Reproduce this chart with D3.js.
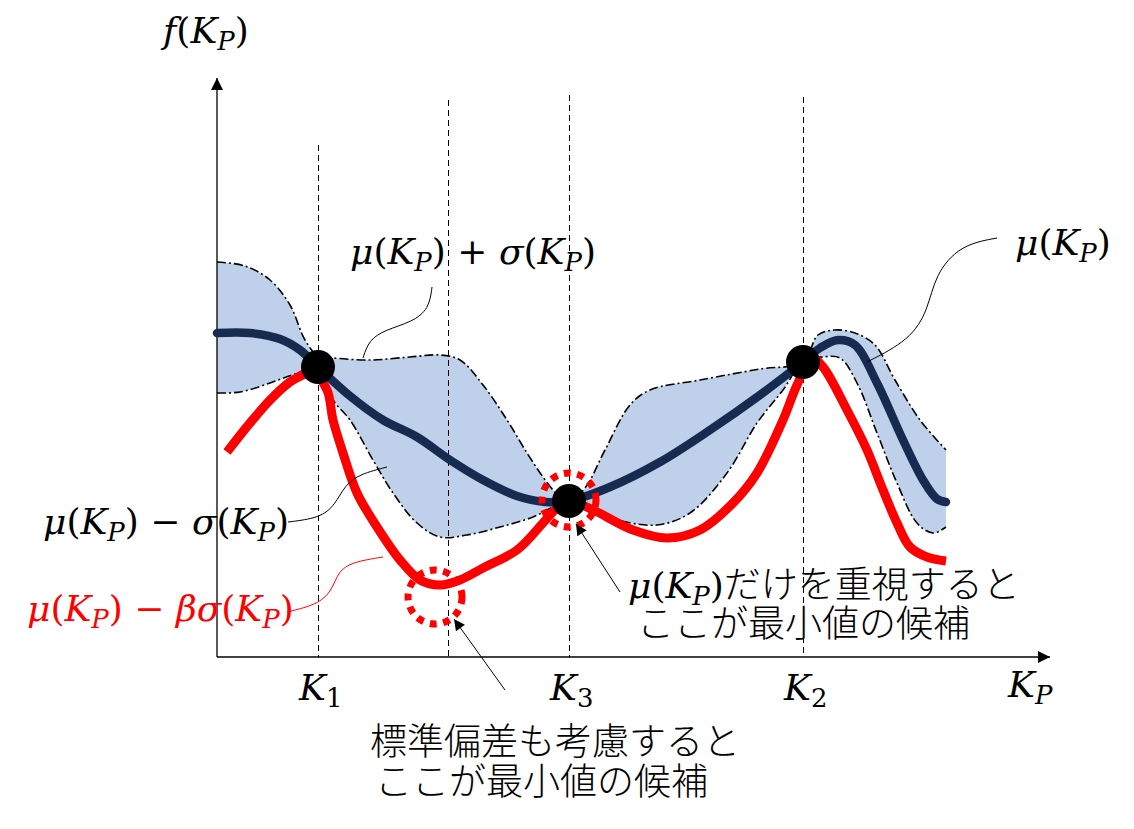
<!DOCTYPE html>
<html lang="ja">
<head>
<meta charset="utf-8">
<title>mu - beta sigma sketch</title>
<script src="https://cdnjs.cloudflare.com/ajax/libs/d3/7.8.5/d3.min.js"></script>
<style>
  body { margin: 0; background: #fff; }
  svg { display: block; }
  text { white-space: pre; }
  .math { font-family: "DejaVu Serif", serif; }
  .jp { font-family: "Noto Sans CJK JP", sans-serif; font-weight: 300; }
</style>
</head>
<body>
<script>
// K_P along x (0 .. 8.3), f(K_P) up (0 .. 5.72)
const meanCurve = [
  [0, 3.24], [0.33, 3.24], [0.63, 3.18], [0.83, 3.07], [1.01, 2.90], [1.33, 2.61],
  [1.66, 2.37], [2.00, 2.20], [2.33, 1.97], [2.66, 1.77], [3.00, 1.61], [3.28, 1.55],
  [3.52, 1.56], [3.93, 1.70], [4.43, 1.95], [4.93, 2.27], [5.43, 2.62], [5.86, 2.95],
  [6.03, 3.09], [6.21, 3.17], [6.38, 3.12], [6.60, 2.74], [6.86, 2.17], [7.06, 1.77],
  [7.20, 1.58], [7.29, 1.55]
];
const upperBand = [
  [0, 3.95], [0.28, 3.91], [0.53, 3.77], [0.73, 3.52], [0.88, 3.17], [1.01, 3.01],
  [1.16, 2.99], [1.53, 2.97], [1.93, 3.00], [2.23, 3.02], [2.43, 2.97], [2.66, 2.72],
  [2.90, 2.37], [3.10, 2.04], [3.26, 1.80], [3.39, 1.64], [3.52, 1.56], [3.68, 1.69],
  [3.88, 2.07], [4.13, 2.52], [4.33, 2.67], [4.83, 2.77], [5.43, 2.88], [5.86, 2.95],
  [6.01, 3.22], [6.18, 3.27], [6.38, 3.24], [6.58, 3.12], [6.78, 2.77], [7.03, 2.37],
  [7.29, 2.07]
];
const lowerBand = [
  [0, 2.64], [0.23, 2.65], [0.53, 2.74], [0.78, 2.83], [1.01, 2.89], [1.16, 2.57],
  [1.33, 2.37], [1.56, 1.97], [1.76, 1.64], [2.00, 1.34], [2.23, 1.20], [2.50, 1.22],
  [2.83, 1.30], [3.16, 1.40], [3.36, 1.50], [3.52, 1.56], [3.76, 1.45], [4.00, 1.37],
  [4.40, 1.32], [4.73, 1.44], [5.10, 1.84], [5.40, 2.34], [5.66, 2.67], [5.86, 2.95],
  [6.06, 3.00], [6.23, 2.99], [6.40, 2.74], [6.60, 2.24], [6.80, 1.74], [7.00, 1.34],
  [7.16, 1.24], [7.29, 1.30]
];
const lcbCurve = [
  [0.10, 2.05], [0.33, 2.34], [0.56, 2.60], [0.76, 2.77], [0.96, 2.84], [1.10, 2.67],
  [1.16, 2.37], [1.26, 2.04], [1.40, 1.64], [1.60, 1.30], [1.83, 0.97], [2.03, 0.77],
  [2.23, 0.72], [2.43, 0.77], [2.66, 0.89], [3.00, 1.07], [3.26, 1.34], [3.39, 1.48],
  [3.52, 1.56], [3.76, 1.47], [4.16, 1.27], [4.50, 1.19], [4.83, 1.27], [5.16, 1.54],
  [5.40, 1.84], [5.66, 2.37], [5.80, 2.72], [5.95, 2.99], [6.06, 2.90], [6.30, 2.47],
  [6.50, 2.07], [6.66, 1.67], [6.80, 1.34], [6.93, 1.10], [7.10, 1.00], [7.29, 0.96]
];
const obsX = [1.01, 3.52, 5.86];
const obsY = [2.90, 1.56, 2.95];
const obsNames = ["1", "3", "2"];
const guideX = [1.01, 2.31, 3.52, 5.86];
const guideTop = [5.12, 5.57, 5.62, 5.60];
const candidates = [[3.52, 1.57], [2.18, 0.60]];

// leader lines from the labels
const plusLeader = [[2.15, 3.70], [2.12, 3.48], [1.95, 3.35], [1.68, 3.27], [1.52, 3.17], [1.46, 2.99]];
const muLeader = [[7.80, 4.19], [7.43, 4.12], [7.18, 3.82], [7.11, 3.47], [6.93, 3.17], [6.50, 2.95]];
const minusLeader = [[0.71, 1.35], [1.03, 1.39], [1.18, 1.52], [1.28, 1.72], [1.43, 1.83], [1.70, 1.90]];
const redLeader = [[0.70, 0.45], [1.03, 0.53], [1.16, 0.69], [1.21, 0.85], [1.35, 0.95], [1.66, 1.00]];
const muArrow = [[4.03, 0.65], [3.59, 1.33]];
const sigmaArrow = [[2.88, -0.33], [2.37, 0.38]];

const W = 1134, H = 829;
const navy = "#172b51", red = "#ff0000", band = "#bed0ea";

const svg = d3.select("body").append("svg").attr("width", W).attr("height", H);

const x = d3.scaleLinear().domain([0, 8.3]).range([217, 1047]);
const y = d3.scaleLinear().domain([0, 5.72]).range([657, 85]);

const defs = svg.append("defs");
function arrowMarker(id, w, h) {
  defs.append("marker").attr("id", id)
    .attr("viewBox", "0 0 10 10").attr("refX", 10).attr("refY", 5)
    .attr("markerUnits", "userSpaceOnUse")
    .attr("markerWidth", w).attr("markerHeight", h)
    .attr("orient", "auto")
    .append("path").attr("d", "M0,0 L10,5 L0,10 Z").attr("fill", "#000");
}
arrowMarker("axisHead", 16, 12);
arrowMarker("noteHead", 14, 11);

const smooth = d3.line().x(d => x(d[0])).y(d => y(d[1])).curve(d3.curveCatmullRom.alpha(0.5));
const straight = d3.line().x(d => x(d[0])).y(d => y(d[1]));

// uncertainty band
const upPath = smooth(upperBand);
const lowPath = smooth(lowerBand.slice().reverse());
svg.append("path").attr("d", upPath + "L" + lowPath.slice(1) + "Z").attr("fill", band);

// guide lines
svg.selectAll(".guide").data(guideX).enter().append("line")
  .attr("x1", d => x(d)).attr("x2", d => x(d))
  .attr("y1", (d, i) => y(guideTop[i])).attr("y2", y(0))
  .attr("stroke", "#000").attr("stroke-width", 1).attr("stroke-dasharray", "6,4")
  .attr("shape-rendering", "crispEdges");

// band edges
[upperBand, lowerBand].forEach(b => {
  svg.append("path").attr("d", smooth(b)).attr("fill", "none")
    .attr("stroke", "#000").attr("stroke-width", 1.6).attr("stroke-dasharray", "9,3,2,3");
});

// axes
svg.append("line").attr("x1", x(0)).attr("y1", y(0)).attr("x2", x(0)).attr("y2", y(5.79))
  .attr("stroke", "#000").attr("stroke-width", 1.3).attr("marker-end", "url(#axisHead)");
svg.append("line").attr("x1", x(0)).attr("y1", y(0)).attr("x2", x(8.33)).attr("y2", y(0))
  .attr("stroke", "#000").attr("stroke-width", 1.3).attr("marker-end", "url(#axisHead)");

// mu - beta sigma
svg.append("path").attr("d", smooth(lcbCurve)).attr("fill", "none")
  .attr("stroke", red).attr("stroke-width", 9).attr("stroke-linejoin", "round");
// mu
svg.append("path").attr("d", smooth(meanCurve)).attr("fill", "none")
  .attr("stroke", navy).attr("stroke-width", 8.5).attr("stroke-linecap", "round");

// observations
svg.selectAll(".obs").data(obsX).enter().append("circle")
  .attr("cx", d => x(d)).attr("cy", (d, i) => y(obsY[i])).attr("r", 17).attr("fill", "#000");

// candidate rings
svg.selectAll(".cand").data(candidates).enter().append("circle")
  .attr("cx", d => x(d[0])).attr("cy", d => y(d[1])).attr("r", 27)
  .attr("fill", "none").attr("stroke", red).attr("stroke-width", 7).attr("stroke-dasharray", "7,6.5");

// leaders
const leader = d3.line().x(d => x(d[0])).y(d => y(d[1])).curve(d3.curveBasis);
[[plusLeader, "#000"], [muLeader, "#000"], [minusLeader, "#000"], [redLeader, red]].forEach(([pts, c]) => {
  svg.append("path").attr("d", leader(pts)).attr("fill", "none").attr("stroke", c).attr("stroke-width", 1);
});
[muArrow, sigmaArrow].forEach(pts => {
  svg.append("path").attr("d", straight(pts)).attr("stroke", "#000").attr("stroke-width", 1)
    .attr("marker-end", "url(#noteHead)");
});

// labels
const MS = 36;
function mathLabel(px, py, parts, color, size) {
  size = size || MS;
  const t = svg.append("text").attr("class", "math").attr("x", px).attr("y", py)
    .attr("font-size", size).attr("fill", color || "#000");
  let down = false;
  parts.forEach(([s, k]) => {
    const sp = t.append("tspan").text(s);
    if (k === "jp") sp.attr("class", "jp").attr("font-size", 37);
    if (k === "i" || k === "s") sp.attr("font-style", "italic");
    if (k === "s" || k === "n") {
      sp.attr("font-size", size * 0.72).attr("dy", size * 0.2);
      down = true;
    } else if (down) {
      sp.attr("dy", -size * 0.2);
      down = false;
    }
  });
  return t;
}
const muK = [["μ", "i"], ["(", "r"], ["K", "i"], ["P", "s"], [")", "r"]];
const sigK = [["σ", "i"], ["(", "r"], ["K", "i"], ["P", "s"], [")", "r"]];

mathLabel(163, 43, [["f", "i"], ["(", "r"], ["K", "i"], ["P", "s"], [")", "r"]]);
mathLabel(350, 264, [...muK, [" + ", "r"], ...sigK]);
mathLabel(1015, 255, muK);
mathLabel(43, 534, [...muK, [" − ", "r"], ...sigK]);
mathLabel(27, 621, [...muK, [" − ", "r"], ["β", "i"], ...sigK], red);

obsX.forEach((d, i) => {
  mathLabel(x(d) - 19, 700, [["K", "i"], [obsNames[i], "n"]]);
});
mathLabel(1008, 697, [["K", "i"], ["P", "s"]]);

mathLabel(628, 598, [...muK, ["だけを重視すると", "jp"]]);
svg.append("text").attr("class", "jp").attr("x", 637).attr("y", 637).attr("font-size", 37)
  .text("ここが最小値の候補");
svg.append("text").attr("class", "jp").attr("x", 370).attr("y", 755).attr("font-size", 37)
  .text("標準偏差も考慮すると");
svg.append("text").attr("class", "jp").attr("x", 375).attr("y", 795).attr("font-size", 37)
  .text("ここが最小値の候補");
</script>
</body>
</html>
